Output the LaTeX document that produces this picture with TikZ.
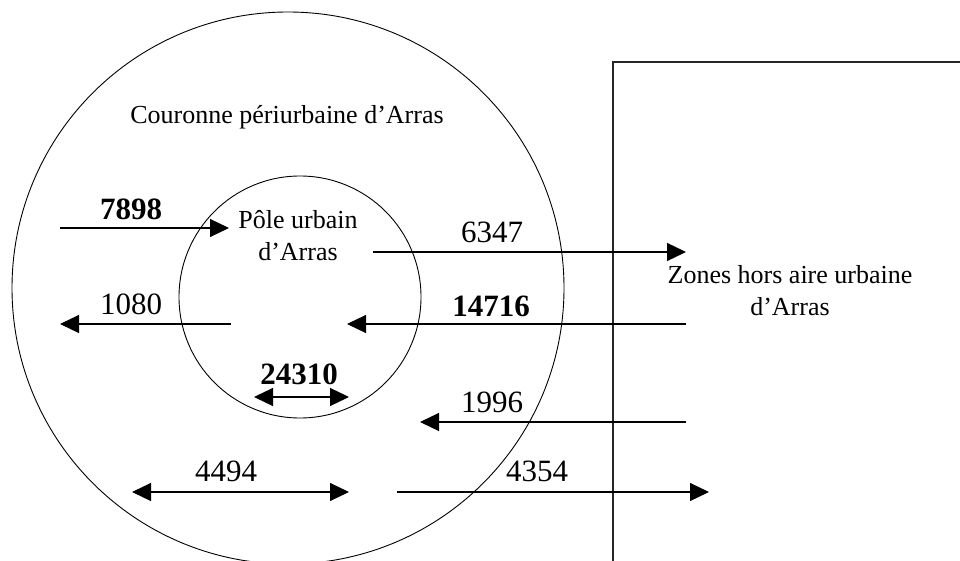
\documentclass[tikz,border=0pt]{standalone}
\usepackage{fontspec}
\setmainfont{Liberation Serif}
\usetikzlibrary{arrows.meta}

\begin{document}
\begin{tikzpicture}[x=1pt,y=-1pt,
  zone/.style={draw=black,line width=0.9pt},
  flow/.style={line width=1.2pt,-{Triangle[length=19pt,width=18pt]}},
  twoway/.style={line width=1.2pt,{Triangle[length=19pt,width=18pt]}-{Triangle[length=19pt,width=18pt]}},
  place/.style={inner sep=0pt,align=center,font=\fontsize{26}{32}\selectfont},
  count/.style={inner sep=0pt,font=\fontsize{31}{34}\selectfont},
  countbold/.style={count,font=\fontsize{31}{34}\selectfont\bfseries}]

\useasboundingbox (0,0) rectangle (960,561);
\clip (0,0) rectangle (960,561);

% areas: peri-urban ring, urban core, outside zone
\draw[zone] (288,288) circle[radius=276];
\draw[zone] (300,297) circle[radius=121];
\draw[line width=1.4pt,black!85] (613,600) -- (613,62) -- (1000,62);

% area names
\node[place] (couronne) at (287,117) {Couronne périurbaine d’Arras};
\node[place] (pole) at (298,236) {Pôle urbain\\d’Arras};
\node[place] (zones) at (790,291) {Zones hors aire urbaine\\d’Arras};

% flow end points
\coordinate (a1) at (60,228);   \coordinate (b1) at (229,228);
\coordinate (a2) at (231,324);  \coordinate (b2) at (60,324);
\coordinate (a3) at (373,252);  \coordinate (b3) at (686,252);
\coordinate (a4) at (686,324);  \coordinate (b4) at (347,324);
\coordinate (a5) at (254,397);  \coordinate (b5) at (349,397);
\coordinate (a6) at (686,422);  \coordinate (b6) at (420,422);
\coordinate (a7) at (132,492);  \coordinate (b7) at (349,492);
\coordinate (a8) at (397,492);  \coordinate (b8) at (709,492);

% flows
\draw[flow] (a1) -- (b1);
\draw[flow] (a2) -- (b2);
\draw[flow] (a3) -- (b3);
\draw[flow] (a4) -- (b4);
\draw[twoway] (a5) -- (b5);
\draw[flow] (a6) -- (b6);
\draw[twoway] (a7) -- (b7);
\draw[flow] (a8) -- (b8);

% flow counts
\node[countbold] (n7898) at (131,209) {7898};
\node[count] (n1080) at (131,304) {1080};
\node[count] (n6347) at (492,232) {6347};
\node[countbold] (n14716) at (491,306) {14716};
\node[countbold] (n24310) at (299,374) {24310};
\node[count] (n1996) at (492,402) {1996};
\node[count] (n4494) at (226,471) {4494};
\node[count] (n4354) at (537,471) {4354};
\end{tikzpicture}
\end{document}
